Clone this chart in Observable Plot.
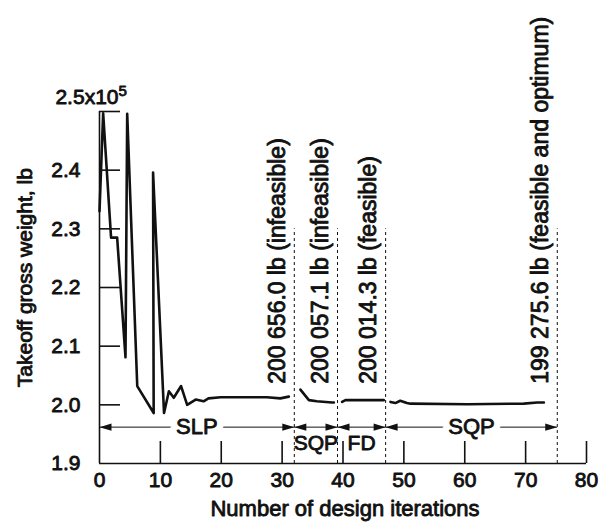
<!DOCTYPE html>
<html>
<head>
<meta charset="utf-8">
<script src="https://cdn.jsdelivr.net/npm/d3@7"></script>
<script src="https://cdn.jsdelivr.net/npm/@observablehq/plot@0.6"></script>
<style>
  html, body { margin: 0; padding: 0; background: #fff; }
</style>
</head>
<body>
<div id="chart"></div>
<script>
// ---------- data (weights in units of 10^5 lb) ----------
const seg1Iter   = [0, 0.6, 1.9, 2.9, 4.27, 4.55, 6.2, 8.9, 8.8, 10.6, 11.4, 12.2, 13.4, 14.4, 15.8, 17.1, 17.9, 19.9, 27.5, 29.7, 31.1];
const seg1Weight = [2.33, 2.497, 2.285, 2.285, 2.081, 2.496, 2.032, 1.986, 2.396, 1.986, 2.023, 2.012, 2.032, 2.0, 2.009, 2.006, 2.011, 2.013, 2.013, 2.011, 2.014];
const seg2Iter   = [33.0, 34.4, 35.7, 38.2, 38.5];
const seg2Weight = [2.026, 2.008, 2.006, 2.004, 2.004];
const seg3Iter   = [39.85, 40.4, 46.7];
const seg3Weight = [2.005, 2.008, 2.008];
const seg4Iter   = [47.8, 48.6, 49.4, 50.5, 51.1, 60.4, 69.7, 71.9, 73.0];
const seg4Weight = [2.005, 2.003, 2.007, 2.003, 2.002, 2.001, 2.002, 2.004, 2.004];

const xTicks = [0, 10, 20, 30, 40, 50, 60, 70, 80];
const xTickLabels = ["0", "10", "20", "30", "40", "50", "60", "70", "80"];
const yTicks = [1.9, 2.0, 2.1, 2.2, 2.3, 2.4, 2.5];
const yTickLabels = ["1.9", "2.0", "2.1", "2.2", "2.3", "2.4"];
const yTopLabel = "2.5x10";
const yTopExponent = "5";

const phaseNames  = ["SLP", "SQP", "FD", "SQP"];
const phaseStart  = [0, 32.0, 39.1, 47.0];
const phaseEnd    = [32.0, 39.1, 47.0, 75.2];
const phaseInline = [true, false, false, true];

const resultAt     = [32.0, 39.1, 47.0, 75.2];
const resultLabels = [
  "200 656.0 lb (infeasible)",
  "200 057.1 lb (infeasible)",
  "200 014.3 lb (feasible)",
  "199 275.6 lb (feasible and optimum)"
];

const xTitle = "Number of design iterations";
const yTitle = "Takeoff gross weight, lb";

// levels (in weight units)
const arrowLevel = 1.962;
const phaseLabelLevel = 1.935;
const resultBase = 2.036;
const boundaryTop = 2.3;
const yTitleBase = 2.03;   // where the rotated y title starts (its "T")

// ---------- tables built from the arrays ----------
const series = [
  ...seg1Iter.map((x, i) => ({iteration: x, weight: seg1Weight[i], segment: 1})),
  ...seg2Iter.map((x, i) => ({iteration: x, weight: seg2Weight[i], segment: 2})),
  ...seg3Iter.map((x, i) => ({iteration: x, weight: seg3Weight[i], segment: 3})),
  ...seg4Iter.map((x, i) => ({iteration: x, weight: seg4Weight[i], segment: 4}))
];
const phases = phaseNames.map((name, i) => ({
  name, start: phaseStart[i], end: phaseEnd[i], mid: (phaseStart[i] + phaseEnd[i]) / 2, inline: phaseInline[i]
}));
const inlinePhases = phases.filter(d => d.inline);
const belowPhases = phases.filter(d => !d.inline);

// ---------- layout / style ----------
const W = 601, H = 525;
const mL = 99, mR = 15, mT = 111, mB = 62;
const frameW = W - mL - mR, frameH = H - mT - mB;
const ink = "#111";
const font = "'Liberation Sans', Arial, Helvetica, sans-serif";
const textStroke = {stroke: ink, strokeWidth: 0.85, fill: ink};

// narrow filled arrowheads with tip at the anchor point
const headRight = {draw(ctx) { ctx.moveTo(0, 0); ctx.lineTo(-12, -3.6); ctx.lineTo(-12, 3.6); ctx.closePath(); }};
const headLeft  = {draw(ctx) { ctx.moveTo(0, 0); ctx.lineTo(12, -3.6); ctx.lineTo(12, 3.6); ctx.closePath(); }};

const chart = Plot.plot({
  width: W,
  height: H,
  marginLeft: mL,
  marginRight: mR,
  marginTop: mT,
  marginBottom: mB,
  style: {fontFamily: font, fontSize: "21px", color: ink, background: "#fff", overflow: "visible"},
  x: {domain: [0, 80], axis: null},
  y: {domain: [1.9, 2.5], axis: null},
  marks: [
    // axes lines
    Plot.ruleX([0], {stroke: ink, strokeWidth: 1.6}),
    Plot.ruleY([1.9], {stroke: ink, strokeWidth: 1.6}),
    // inward ticks
    Plot.ruleY(yTicks.slice(1), {stroke: ink, strokeWidth: 1.6, insetRight: frameW - 21}),
    Plot.ruleX(xTicks.slice(1), {stroke: ink, strokeWidth: 1.6, insetTop: frameH - 22}),
    // tick labels
    Plot.text(yTickLabels, {y: (d, i) => yTicks[i], text: d => d, frameAnchor: "left", textAnchor: "end", lineAnchor: "middle", dx: -19, fontSize: 21, ...textStroke}),
    Plot.text([yTopLabel], {y: () => yTicks[yTicks.length - 1], text: d => d, frameAnchor: "left", textAnchor: "end", lineAnchor: "bottom", dx: 19, dy: -8, fontSize: 21, ...textStroke}),
    Plot.text([yTopExponent], {y: () => yTicks[yTicks.length - 1], text: d => d, frameAnchor: "left", textAnchor: "start", lineAnchor: "bottom", dx: 19, dy: -16, fontSize: 15, ...textStroke}),
    Plot.text(xTickLabels, {x: (d, i) => xTicks[i], text: d => d, frameAnchor: "bottom", lineAnchor: "middle", dy: 17, fontSize: 21, ...textStroke}),
    // axis titles
    Plot.text([yTitle], {x: () => 0, y: () => yTitleBase, text: d => d, rotate: -90, textAnchor: "start", lineAnchor: "middle", dx: -74, fontSize: 21, ...textStroke}),
    Plot.text([xTitle], {text: d => d, frameAnchor: "bottom", textAnchor: "middle", lineAnchor: "middle", dx: 2, dy: 45, fontSize: 22, ...textStroke}),
    // phase boundaries
    Plot.ruleX(resultAt, {y1: 1.9, y2: boundaryTop, stroke: ink, strokeWidth: 1, strokeDasharray: "3,3"}),
    // result annotations
    Plot.text(resultLabels, {x: (d, i) => resultAt[i], y: resultBase, text: d => d, rotate: -90, textAnchor: "start", lineAnchor: "middle", dx: -17, fontSize: 23, ...textStroke}),
    // phase arrows
    Plot.ruleY(phases, {x1: "start", x2: "end", y: arrowLevel, stroke: ink, strokeWidth: 1}),
    Plot.dot(phases, {x: "end", y: arrowLevel, symbol: headRight, r: 3, fill: ink, stroke: "none"}),
    Plot.dot(phases, {x: "start", y: arrowLevel, symbol: headLeft, r: 3, fill: ink, stroke: "none"}),
    Plot.text(inlinePhases, {x: "mid", y: arrowLevel, text: "name", lineAnchor: "middle", fontSize: 22, fill: "#fff", stroke: "#fff", strokeWidth: 14}),
    Plot.text(inlinePhases, {x: "mid", y: arrowLevel, text: "name", lineAnchor: "middle", fontSize: 22, ...textStroke}),
    Plot.text(belowPhases, {x: "mid", y: phaseLabelLevel, text: "name", lineAnchor: "middle", fontSize: 21, ...textStroke}),
    // the history curve
    Plot.line(series, {x: "iteration", y: "weight", z: "segment", stroke: ink, strokeWidth: 2.6, strokeLinejoin: "round", curve: "linear"})
  ]
});
document.getElementById("chart").appendChild(chart);
</script>
</body>
</html>
